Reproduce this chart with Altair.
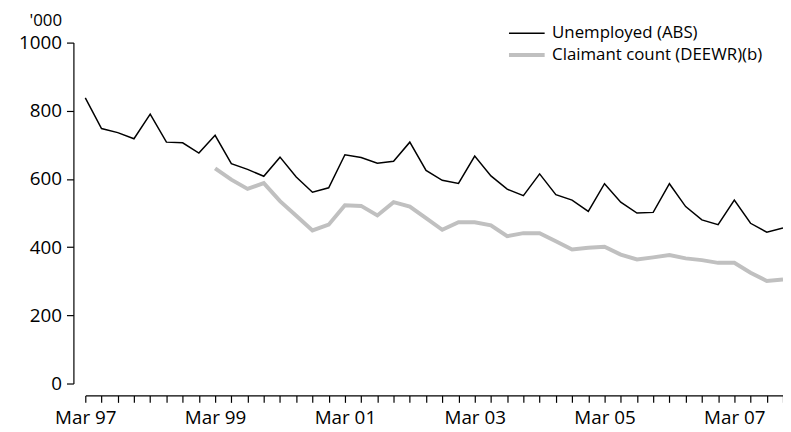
import altair as alt
import pandas as pd

FONT = "Open Sans"

months = ["Mar", "Jun", "Sep", "Dec"]
quarters = [f"{m} {y % 100:02d}" for y in range(1997, 2008) for m in months]
label_quarters = ["Mar 97", "Mar 99", "Mar 01", "Mar 03", "Mar 05", "Mar 07"]

unemployed = [838, 748, 736, 718, 790, 708, 706, 676, 728, 645,
              628, 608, 664, 606, 561, 574, 671, 663, 646, 652,
              708, 625, 596, 587, 667, 609, 570, 551, 615, 554,
              538, 505, 586, 532, 500, 502, 586, 519, 480, 466,
              538, 470, 444, 456]

claimant = [None, None, None, None, None, None, None, None, 631, 598,
            571, 588, 535, 492, 449, 466, 523, 521, 493, 532,
            519, 485, 451, 473, 473, 464, 432, 441, 441, 417,
            393, 398, 401, 378, 364, 370, 377, 367, 362, 354,
            354, 325, 301, 305]

series_names = ["Unemployed (ABS)", "Claimant count (DEEWR)(b)"]
series_colors = ["#000000", "#c0c0c0"]
series_widths = [1.5, 4]

rows = []
for name, vals in zip(series_names, [unemployed, claimant]):
    for q, v in zip(quarters, vals):
        if v is not None:
            rows.append({"quarter": q, "value": v, "series": name})
df = pd.DataFrame(rows)

label_expr = "indexof(" + str(label_quarters) + ", datum.label) >= 0 ? datum.label : ''"


def make_legend():
    return alt.Legend(title=None, orient="none", legendX=437, legendY=-18,
                      symbolType="M-3.6,0H3.6", symbolSize=100,
                      labelOffset=17, labelFontSize=17, labelFont=FONT,
                      labelColor="#000000", labelLimit=0, rowPadding=4, padding=0)


chart = alt.Chart(df).mark_line().encode(
    x=alt.X("quarter:O", sort=quarters,
            scale=alt.Scale(type="point", padding=0),
            axis=alt.Axis(title=None, labelExpr=label_expr, labelAngle=0,
                          offset=12, tickSize=7, labelPadding=6,
                          labelOverlap=False)),
    y=alt.Y("value:Q", scale=alt.Scale(domain=[0, 1000], nice=False),
            axis=alt.Axis(values=[0, 200, 400, 600, 800, 1000], format="d", title="'000",
                          titleAngle=0, titleAlign="right", titleBaseline="alphabetic",
                          titleX=-12, titleY=-17, titleFontWeight="normal",
                          titleFontSize=17, titleFont=FONT, titleColor="#000000",
                          offset=12, tickSize=7, labelPadding=5)),
    color=alt.Color("series:N",
                    scale=alt.Scale(domain=series_names, range=series_colors),
                    legend=make_legend()),
    strokeWidth=alt.StrokeWidth("series:N",
                                scale=alt.Scale(domain=series_names, range=series_widths),
                                legend=make_legend()),
    detail="series:N",
).properties(
    width=704, height=344,
    autosize=alt.AutoSizeParams(type="none"),
    padding={"left": 78, "top": 33, "right": 0, "bottom": 46},
).configure_view(stroke=None).configure_axis(
    grid=False, labelFont=FONT, labelFontSize=19, labelColor="#000000",
    domainColor="#000000", tickColor="#000000", domainWidth=1.2, tickWidth=1.2,
)

chart.save("out.html", embed_options={"renderer": "svg", "actions": False})
